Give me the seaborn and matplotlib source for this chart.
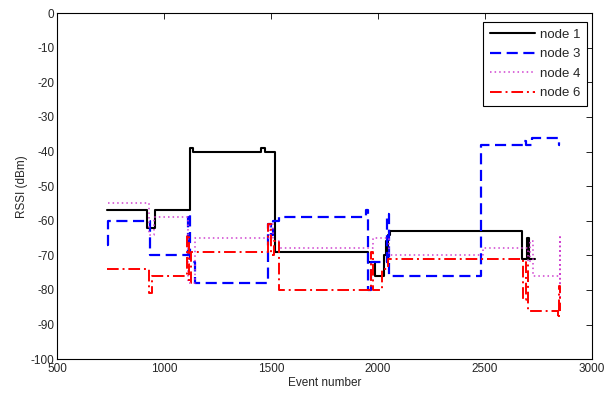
import numpy as np
import pandas as pd
import matplotlib
matplotlib.use("Agg")
import matplotlib.pyplot as plt
import seaborn as sns

# step data: value holds from each event until the next
node1_x = [735, 920, 958, 1121, 1135, 1455, 1470, 1520, 1953, 1986, 2028, 2035, 2040, 2046, 2056, 2673, 2696, 2706, 2735]
node1_y = [-57, -62, -57, -39, -40, -39, -40, -69, -72, -76, -70, -66, -72, -64, -63, -71, -65, -71, -71]

node3_x = [735, 737, 935, 1112, 1120, 1145, 1486, 1500, 1510, 1537, 1944, 1955, 1965, 2040, 2051, 2481, 2678, 2690, 2720, 2846, 2852]
node3_y = [-67, -60, -70, -58, -72, -78, -61, -64, -60, -59, -57, -80, -72, -58, -76, -38, -37, -38, -36, -38, -38]

node4_x = [740, 745, 930, 955, 1112, 1145, 1495, 1510, 1537, 1977, 2051, 2490, 2700, 2712, 2725, 2848, 2848, 2852]
node4_y = [-55, -55, -64, -59, -78, -65, -61, -66, -68, -65, -70, -68, -72, -66, -76, -64, -82, -76]

node6_x = [735, 930, 945, 1107, 1115, 1125, 1486, 1500, 1512, 1537, 1967, 1975, 2020, 2047, 2678, 2690, 2700, 2840, 2846, 2852]
node6_y = [-74, -81, -76, -64, -78, -69, -61, -70, -66, -80, -69, -80, -74, -71, -83, -72, -86, -88, -79, -86]

labels = ["node 1", "node 3", "node 4", "node 6"]
colors = ["black", "#0000ff", "#d040d0", "#ff0000"]
styles = ["-", (0, (5, 2.5)), (0, (1, 2)), (0, (6, 2, 1, 2))]
widths = [1.5, 1.6, 1.1, 1.4]

sns.set_theme(style="white")
plt.rcParams["font.family"] = ["Liberation Sans", "DejaVu Sans"]
plt.rcParams["font.size"] = 8.5
plt.rcParams["axes.unicode_minus"] = False

fig = plt.figure(figsize=(6.06, 3.99), dpi=100)
ax = fig.add_axes([0.094, 0.1, 0.883, 0.867])

series = [(node1_x, node1_y), (node3_x, node3_y), (node4_x, node4_y), (node6_x, node6_y)]
for (xs, ys), lab, c, ls, lw in zip(series, labels, colors, styles, widths):
    df = pd.DataFrame({"event": xs, "rssi": ys})
    sns.lineplot(data=df, x="event", y="rssi", ax=ax, estimator=None, sort=False,
                 drawstyle="steps-post", color=c, linestyle=ls, linewidth=lw, label=lab)

ax.set_xlim(500, 3000)
ax.set_ylim(-100, 0)
ax.set_xticks(np.arange(500, 3001, 500))
ax.set_yticks(np.arange(-100, 1, 10))
ax.set_xlabel("Event number", fontsize=8.5, labelpad=1)
ax.set_ylabel("RSSI (dBm)", fontsize=8.5, labelpad=2)
ax.tick_params(direction="in", top=True, right=True, length=4, width=0.6,
               labelsize=8.5, pad=2, color="black")
ax.tick_params(axis="x", pad=3)
for sp in ax.spines.values():
    sp.set_color("black")
    sp.set_linewidth(0.8)

leg = ax.legend(loc="upper right", bbox_to_anchor=(0.991, 0.974), borderaxespad=0,
                fontsize=9.5, fancybox=False, framealpha=1, edgecolor="black",
                handlelength=3.4, borderpad=0.5, labelspacing=0.55, handletextpad=0.4)
leg.get_frame().set_linewidth(0.8)

fig.savefig("out.png", dpi=100, facecolor="white")
